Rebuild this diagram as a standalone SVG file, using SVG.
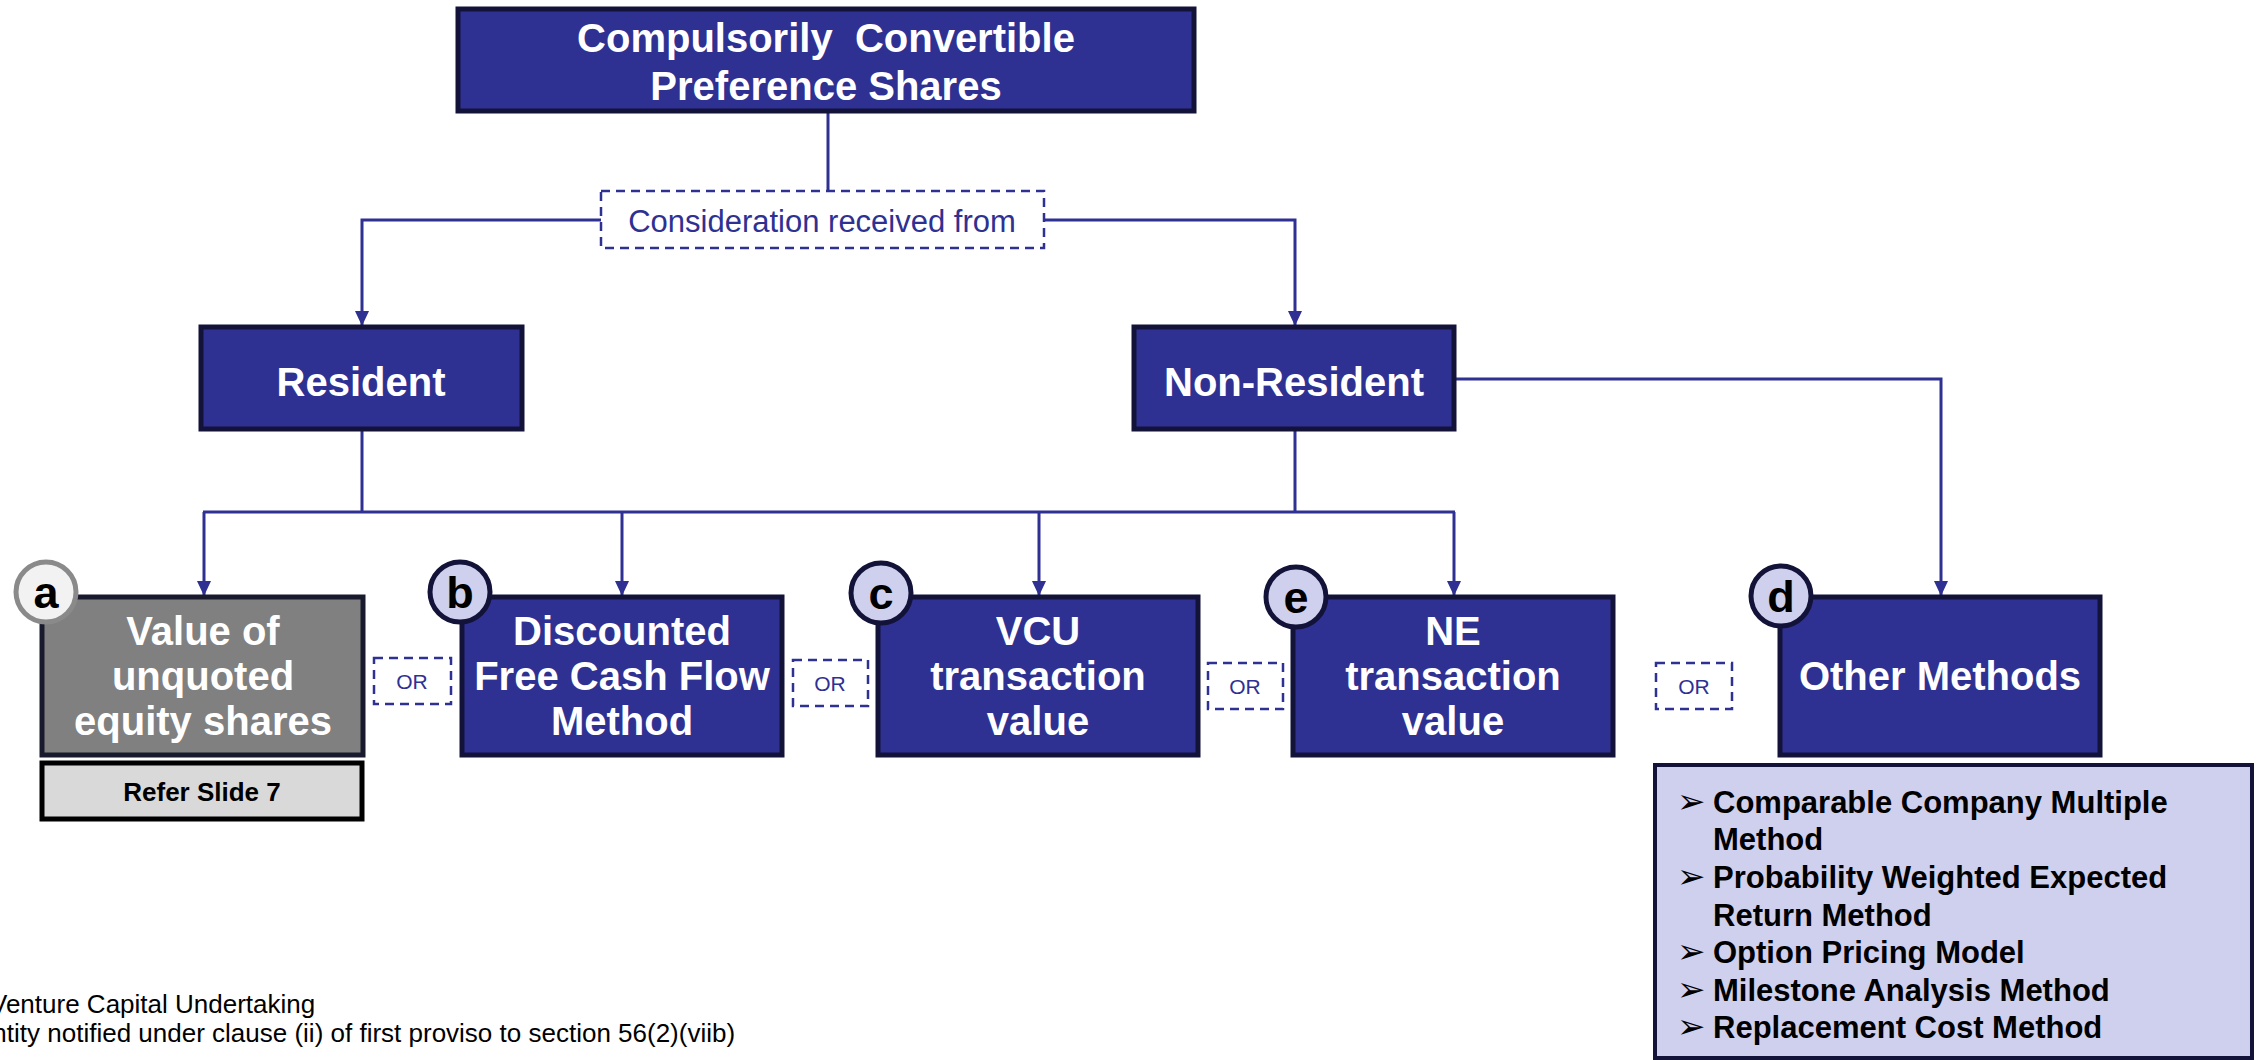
<svg xmlns="http://www.w3.org/2000/svg" width="2257" height="1060" viewBox="0 0 2257 1060">
<style>
  text { font-family: "Liberation Sans", Arial, sans-serif; }
  .box { fill: #2e3192; stroke: #13133a; stroke-width: 5; }
  .gbox { fill: #808080; stroke: #1a1a2e; stroke-width: 5; }
  .wt { fill: #ffffff; font-weight: bold; font-size: 40px; text-anchor: middle; }
  .conn { fill: none; stroke: #2e3192; stroke-width: 3; }
  .dash { fill: #ffffff; stroke: #2e3192; stroke-width: 2.5; stroke-dasharray: 9 6; }
  .ort { fill: #2e3192; font-size: 21px; text-anchor: middle; }
  .badge { fill: #cfd0ee; stroke: #13133a; stroke-width: 5; }
  .badgeg { fill: #f2f2f2; stroke: #8a8a8a; stroke-width: 5; }
  .bl { fill: #000000; font-weight: bold; font-size: 45px; text-anchor: middle; }
  .li { fill: #000000; font-weight: bold; font-size: 31px; }
  .bul { font-family: "DejaVu Sans", sans-serif; font-size: 34px; font-weight: normal; fill: #000; }
  .fn { fill: #000000; font-size: 26px; }
</style>
<defs>
  <marker id="arr" markerUnits="userSpaceOnUse" markerWidth="15" markerHeight="14" refX="15" refY="7" orient="auto">
    <path d="M0,0 L15,7 L0,14 z" fill="#2e3192"/>
  </marker>
</defs>

<g id="connectors">
  <line class="conn" x1="828" y1="111" x2="828" y2="191"/>
  <polyline class="conn" points="601,220 362,220 362,326" marker-end="url(#arr)"/>
  <polyline class="conn" points="1044,220 1295,220 1295,326" marker-end="url(#arr)"/>
  <polyline class="conn" points="1455,379 1941,379 1941,596" marker-end="url(#arr)"/>
  <line class="conn" x1="362" y1="429" x2="362" y2="512"/>
  <line class="conn" x1="1295" y1="429" x2="1295" y2="512"/>
  <line class="conn" x1="203" y1="512" x2="1455" y2="512"/>
  <line class="conn" x1="204" y1="512" x2="204" y2="596" marker-end="url(#arr)"/>
  <line class="conn" x1="622" y1="512" x2="622" y2="596" marker-end="url(#arr)"/>
  <line class="conn" x1="1039" y1="512" x2="1039" y2="596" marker-end="url(#arr)"/>
  <line class="conn" x1="1454" y1="512" x2="1454" y2="596" marker-end="url(#arr)"/>
</g>

<g id="ccps">
  <rect class="box" x="458" y="9" width="736" height="102"/>
  <text class="wt" x="826" y="52" font-size="41">Compulsorily&#160; Convertible</text>
  <text class="wt" x="826" y="100" font-size="41">Preference Shares</text>
</g>

<g id="consideration">
  <rect class="dash" x="601" y="191" width="443" height="57"/>
  <text x="822" y="232" fill="#2e3192" font-size="31" text-anchor="middle">Consideration received from</text>
</g>

<g id="resident">
  <rect class="box" x="201" y="327" width="321" height="102"/>
  <text class="wt" x="361" y="396" font-size="42">Resident</text>
</g>

<g id="nonresident">
  <rect class="box" x="1134" y="327" width="320" height="102"/>
  <text class="wt" x="1294" y="396" font-size="42">Non-Resident</text>
</g>

<g id="node-a">
  <rect class="gbox" x="42" y="597" width="321" height="158"/>
  <text class="wt" x="203" y="645">Value of</text>
  <text class="wt" x="203" y="690">unquoted</text>
  <text class="wt" x="203" y="735">equity shares</text>
  <circle class="badgeg" cx="46" cy="592" r="30"/>
  <text class="bl" x="46" y="608">a</text>
</g>

<g id="refer">
  <rect x="42" y="763" width="320" height="56" fill="#d9d9d9" stroke="#000" stroke-width="5"/>
  <text x="202" y="801" font-size="26" font-weight="bold" fill="#000" text-anchor="middle">Refer Slide 7</text>
</g>

<g id="node-b">
  <rect class="box" x="462" y="597" width="320" height="158"/>
  <text class="wt" x="622" y="645">Discounted</text>
  <text class="wt" x="622" y="690">Free Cash Flow</text>
  <text class="wt" x="622" y="735">Method</text>
  <circle class="badge" cx="460" cy="592" r="30"/>
  <text class="bl" x="460" y="608">b</text>
</g>

<g id="node-c">
  <rect class="box" x="878" y="597" width="320" height="158"/>
  <text class="wt" x="1038" y="645">VCU</text>
  <text class="wt" x="1038" y="690">transaction</text>
  <text class="wt" x="1038" y="735">value</text>
  <circle class="badge" cx="881" cy="593" r="30"/>
  <text class="bl" x="881" y="609">c</text>
</g>

<g id="node-e">
  <rect class="box" x="1293" y="597" width="320" height="158"/>
  <text class="wt" x="1453" y="645">NE</text>
  <text class="wt" x="1453" y="690">transaction</text>
  <text class="wt" x="1453" y="735">value</text>
  <circle class="badge" cx="1296" cy="597" r="30"/>
  <text class="bl" x="1296" y="613">e</text>
</g>

<g id="node-d">
  <rect class="box" x="1780" y="597" width="320" height="158"/>
  <text class="wt" x="1940" y="690">Other Methods</text>
  <circle class="badge" cx="1781" cy="596" r="30"/>
  <text class="bl" x="1781" y="612">d</text>
</g>

<g id="or-1">
  <rect class="dash" x="374" y="658" width="77" height="46"/>
  <text class="ort" x="412" y="689">OR</text>
</g>
<g id="or-2">
  <rect class="dash" x="793" y="660" width="75" height="46"/>
  <text class="ort" x="830" y="691">OR</text>
</g>
<g id="or-3">
  <rect class="dash" x="1208" y="663" width="75" height="46"/>
  <text class="ort" x="1245" y="694">OR</text>
</g>
<g id="or-4">
  <rect class="dash" x="1656" y="663" width="76" height="46"/>
  <text class="ort" x="1694" y="694">OR</text>
</g>

<g id="methods-list">
  <rect x="1655" y="765" width="597" height="293" fill="#cfd0ee" stroke="#13133a" stroke-width="4"/>
  <text class="li" x="1713" y="813"><tspan class="bul" x="1677">➢</tspan><tspan x="1713">Comparable Company Multiple</tspan></text>
  <text class="li" x="1713" y="850">Method</text>
  <text class="li" x="1713" y="888"><tspan class="bul" x="1677">➢</tspan><tspan x="1713">Probability Weighted Expected</tspan></text>
  <text class="li" x="1713" y="926">Return Method</text>
  <text class="li" x="1713" y="963"><tspan class="bul" x="1677">➢</tspan><tspan x="1713">Option Pricing Model</tspan></text>
  <text class="li" x="1713" y="1001"><tspan class="bul" x="1677">➢</tspan><tspan x="1713">Milestone Analysis Method</tspan></text>
  <text class="li" x="1713" y="1038"><tspan class="bul" x="1677">➢</tspan><tspan x="1713">Replacement Cost Method</tspan></text>
</g>

<g id="footnotes">
  <text class="fn" x="-10" y="1013">Venture Capital Undertaking</text>
  <text class="fn" x="-25" y="1042">Entity notified under clause (ii) of first proviso to section 56(2)(viib)</text>
</g>
</svg>
